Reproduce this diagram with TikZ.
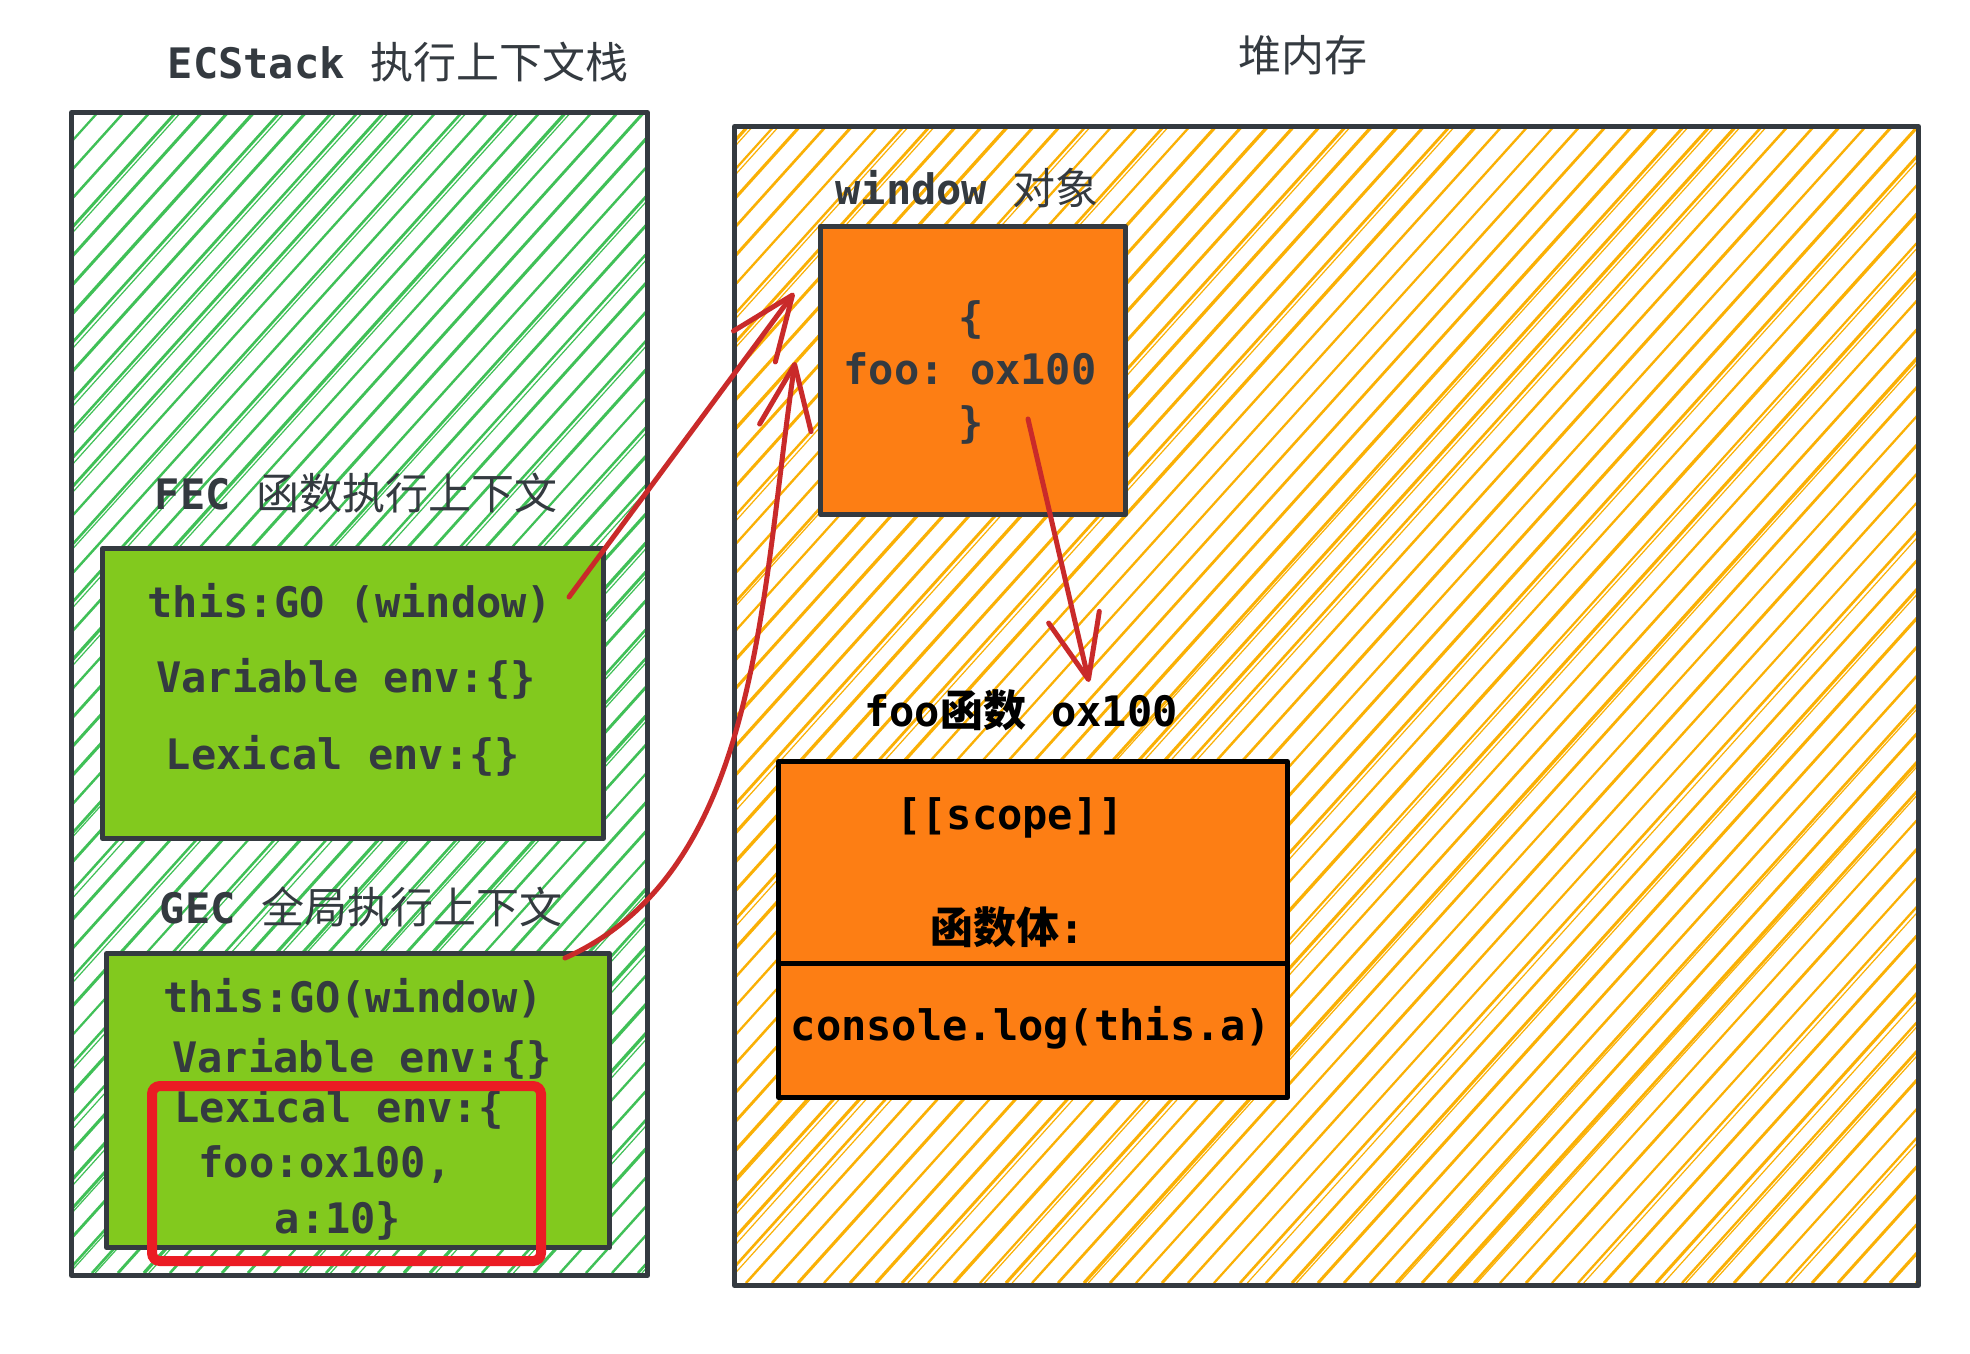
\documentclass[tikz,border=0pt]{standalone}
\usepackage{fontspec}
\setmonofont{DejaVu Sans Mono}
\newfontfamily\cjk{Noto Sans CJK SC}
\usetikzlibrary{arrows.meta}
\definecolor{dk}{HTML}{343A40}
\definecolor{hgreen}{HTML}{40C057}
\definecolor{fgreen}{HTML}{82C91E}
\definecolor{horange}{HTML}{FAB005}
\definecolor{forange}{HTML}{FD7E14}
\definecolor{rarrow}{HTML}{C92A2A}
\definecolor{rbox}{HTML}{EB1C24}
\newcommand\mf{\fontsize{42}{48}\selectfont\ttfamily}
\newcommand\cf{\fontsize{43}{48}\selectfont\cjk}
\begin{document}
\begin{tikzpicture}[x=1pt,y=-1pt,
  lbl/.style={inner sep=0pt, anchor=base, text=dk},
  blk/.style={inner sep=0pt, anchor=base, text=black},
  innerbox/.style={draw=dk, line width=5pt, line join=round, inner sep=0pt, anchor=north west},
  arr/.style={draw=rarrow, line width=5pt, line cap=round, line join=round,
    -{Straight Barb[length=64pt,width=52pt,round]}},
]
\useasboundingbox (0,0) rectangle (1970,1354);
\fill[white] (0,0) rectangle (1970,1354);
\pgfmathsetseed{11}
% ---- green hatch
\begin{scope}
\clip (69,110) rectangle (645,1273);
\foreach \c in {-1000,-974,...,650} {
  \pgfmathsetmacro\wa{2.2+rnd*1.2}
  \draw[hgreen, line width=\wa pt] (\c,1273) -- ++(1048,-1163);
  \pgfmathtruncatemacro\pr{rnd<0.3 ? 1 : 0}
  \ifnum\pr=1
    \pgfmathsetmacro\da{rand*3}
    \draw[hgreen, line width=1.2pt] (\c+\da+5,1273) -- ++(1048-\da,-1163);
  \fi
}
\end{scope}
% ---- orange hatch
\begin{scope}
\clip (732,124) rectangle (1916,1283);
\foreach \c in {-320,-294,...,1920} {
  \pgfmathsetmacro\wa{2.2+rnd*1.2}
  \draw[horange, line width=\wa pt] (\c,1283) -- ++(1044,-1159);
  \pgfmathtruncatemacro\pr{rnd<0.3 ? 1 : 0}
  \ifnum\pr=1
    \pgfmathsetmacro\da{rand*3}
    \draw[horange, line width=1.2pt] (\c+\da+5,1283) -- ++(1044-\da,-1159);
  \fi
}
\end{scope}
% ---- outer containers
\node[innerbox, minimum width=576pt, minimum height=1163pt] (stack) at (69,110) {};
\node[innerbox, minimum width=1184pt, minimum height=1159pt] (heap) at (732,124) {};
\node[lbl] (stacktitle) at (398,78) {{\mf\bfseries ECStack\ }{\cf 执行上下文栈}};
\node[lbl] (heaptitle) at (1303,71) {\cf 堆内存};
% ---- FEC
\node[lbl] (feclbl) at (356,509) {{\mf\bfseries FEC\ }{\cf 函数执行上下文}};
\node[innerbox, fill=fgreen, minimum width=501pt, minimum height=290pt] (fec) at (100,546) {};
\node[lbl] (fec1) at (350,617) {\mf\bfseries this:GO (window)};
\node[lbl] (fec2) at (346,692) {\mf\bfseries Variable env:\{\}};
\node[lbl] (fec3) at (343,769) {\mf\bfseries Lexical env:\{\}};
% ---- GEC
\node[lbl] (geclbl) at (361,923) {{\mf\bfseries GEC\ }{\cf 全局执行上下文}};
\node[innerbox, fill=fgreen, minimum width=503pt, minimum height=294pt] (gec) at (104,951) {};
\node[lbl] (gec1) at (353,1012) {\mf\bfseries this:GO(window)};
\node[lbl] (gec2) at (362,1072) {\mf\bfseries Variable env:\{\}};
\node[lbl] (gec3) at (339,1122) {\mf\bfseries Lexical env:\{};
\node[lbl] (gec4) at (325,1177) {\mf\bfseries foo:ox100,};
\node[lbl] (gec5) at (338,1233) {\mf\bfseries a:10\}};
\node[draw=rbox, line width=10pt, rounded corners=8pt, inner sep=0pt, anchor=north west,
  minimum width=389pt, minimum height=175pt] (lex) at (147,1081) {};
% ---- window object
\node[lbl] (winlbl) at (967,204) {{\mf\bfseries window\ }{\cf 对象}};
\node[innerbox, fill=forange, minimum width=305pt, minimum height=288pt] (win) at (818,224) {};
\node[lbl] (w1) at (971,332) {\mf\bfseries \{};
\node[lbl] (w2) at (970,384) {\mf\bfseries foo: ox100};
\node[lbl] (w3) at (971,437) {\mf\bfseries \}};
% ---- foo function
\node[blk] (foolbl) at (1021,726) {{\mf\bfseries foo}{\cf\bfseries 函数}{\mf\bfseries\ ox100}};
\node[innerbox, draw=black, fill=forange, minimum width=509pt, minimum height=336pt] (foo) at (776,759) {};
\draw[black, line width=5pt] (foo.west |- 0,963) coordinate (divl) -- (foo.east |- 0,963) coordinate (divr);
\node[blk] (scope) at (1010,829) {\mf\bfseries [[scope]]};
\node[blk] (body) at (1008,943) {{\cf\bfseries 函数体}{\mf\bfseries :}};
\node[blk] (code) at (1031,1040) {\mf\bfseries console.log(this.a)};
% ---- arrows
\coordinate (a1s) at (569,597);
\coordinate (a1e) at (794,293);
\coordinate (a2s) at (565,958);
\coordinate (a2e) at (795,362);
\coordinate (a3s) at (1028,419);
\coordinate (a3e) at (1089,682);
\draw[arr] (a1s) -- (a1e);
\draw[arr] (a2s) .. controls (760,870) and (760,600) .. (a2e);
\draw[arr] (a3s) -- (a3e);
\end{tikzpicture}
\end{document}
